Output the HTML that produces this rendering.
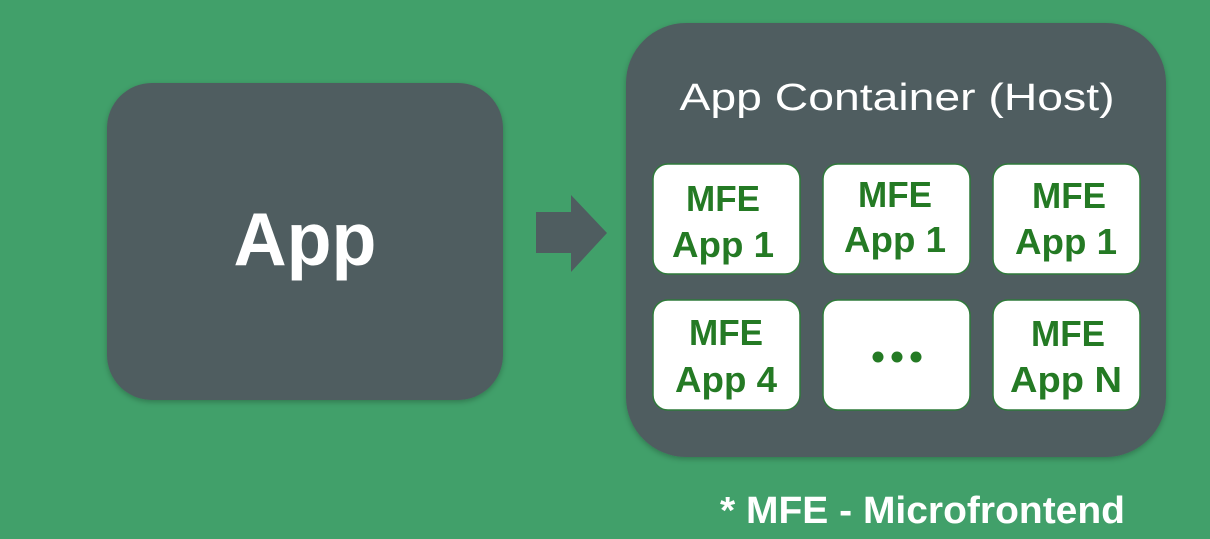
<!DOCTYPE html>
<html><head><meta charset="utf-8"><style>
html,body{margin:0;padding:0;background:#41a06a;}
svg{display:block}
text{font-family:"Liberation Sans",sans-serif;}
</style></head><body>
<svg width="1210" height="539" viewBox="0 0 1210 539" xmlns="http://www.w3.org/2000/svg">
<defs>
<filter id="sh" x="-10%" y="-10%" width="120%" height="120%"><feDropShadow dx="0" dy="2" stdDeviation="3" flood-color="#000" flood-opacity="0.25"/></filter>
</defs>
<rect width="1210" height="539" fill="#41a06a"/>
<rect x="107" y="83" width="396" height="317" rx="45" fill="#4f5d60" filter="url(#sh)"/>
<text x="305" y="265" text-anchor="middle" font-size="75" font-weight="bold" fill="#fff" textLength="143" lengthAdjust="spacingAndGlyphs">App</text>
<polygon points="536,212 571,212 571,195 607,233 571,272 571,253 536,253" fill="#4f5d60"/>
<rect x="626" y="23" width="540" height="434" rx="60" fill="#4f5d60" filter="url(#sh)"/>
<text x="897" y="110" text-anchor="middle" font-size="38" fill="#fff" textLength="435" lengthAdjust="spacingAndGlyphs">App Container (Host)</text>
<g fill="#fff" stroke="#2f7a3a" stroke-width="1.5">
<rect x="653" y="164" width="147" height="110" rx="15"/>
<rect x="823" y="164" width="147" height="110" rx="15"/>
<rect x="993" y="164" width="147" height="110" rx="15"/>
<rect x="653" y="300" width="147" height="110" rx="15"/>
<rect x="823" y="300" width="147" height="110" rx="15"/>
<rect x="993" y="300" width="147" height="110" rx="15"/>
</g>
<g fill="#247a24" font-size="36" font-weight="bold" text-anchor="middle">
<text x="723" y="211" textLength="74" lengthAdjust="spacingAndGlyphs">MFE</text>
<text x="723" y="257" textLength="102" lengthAdjust="spacingAndGlyphs">App 1</text>
<text x="895" y="207" textLength="74" lengthAdjust="spacingAndGlyphs">MFE</text>
<text x="895" y="252" textLength="102" lengthAdjust="spacingAndGlyphs">App 1</text>
<text x="1069" y="208" textLength="74" lengthAdjust="spacingAndGlyphs">MFE</text>
<text x="1066" y="254" textLength="102" lengthAdjust="spacingAndGlyphs">App 1</text>
<text x="726" y="345" textLength="74" lengthAdjust="spacingAndGlyphs">MFE</text>
<text x="726" y="392" textLength="102" lengthAdjust="spacingAndGlyphs">App 4</text>
<text x="1068" y="346" textLength="74" lengthAdjust="spacingAndGlyphs">MFE</text>
<text x="1066" y="392" textLength="112" lengthAdjust="spacingAndGlyphs">App N</text>
</g>
<g fill="#247a24">
<circle cx="878" cy="357" r="5.5"/><circle cx="897" cy="357" r="5.5"/><circle cx="916" cy="357" r="5.5"/>
</g>
<text x="720" y="523" font-size="38" font-weight="bold" fill="#fff" textLength="405" lengthAdjust="spacingAndGlyphs">* MFE - Microfrontend</text>
</svg>
</body></html>
